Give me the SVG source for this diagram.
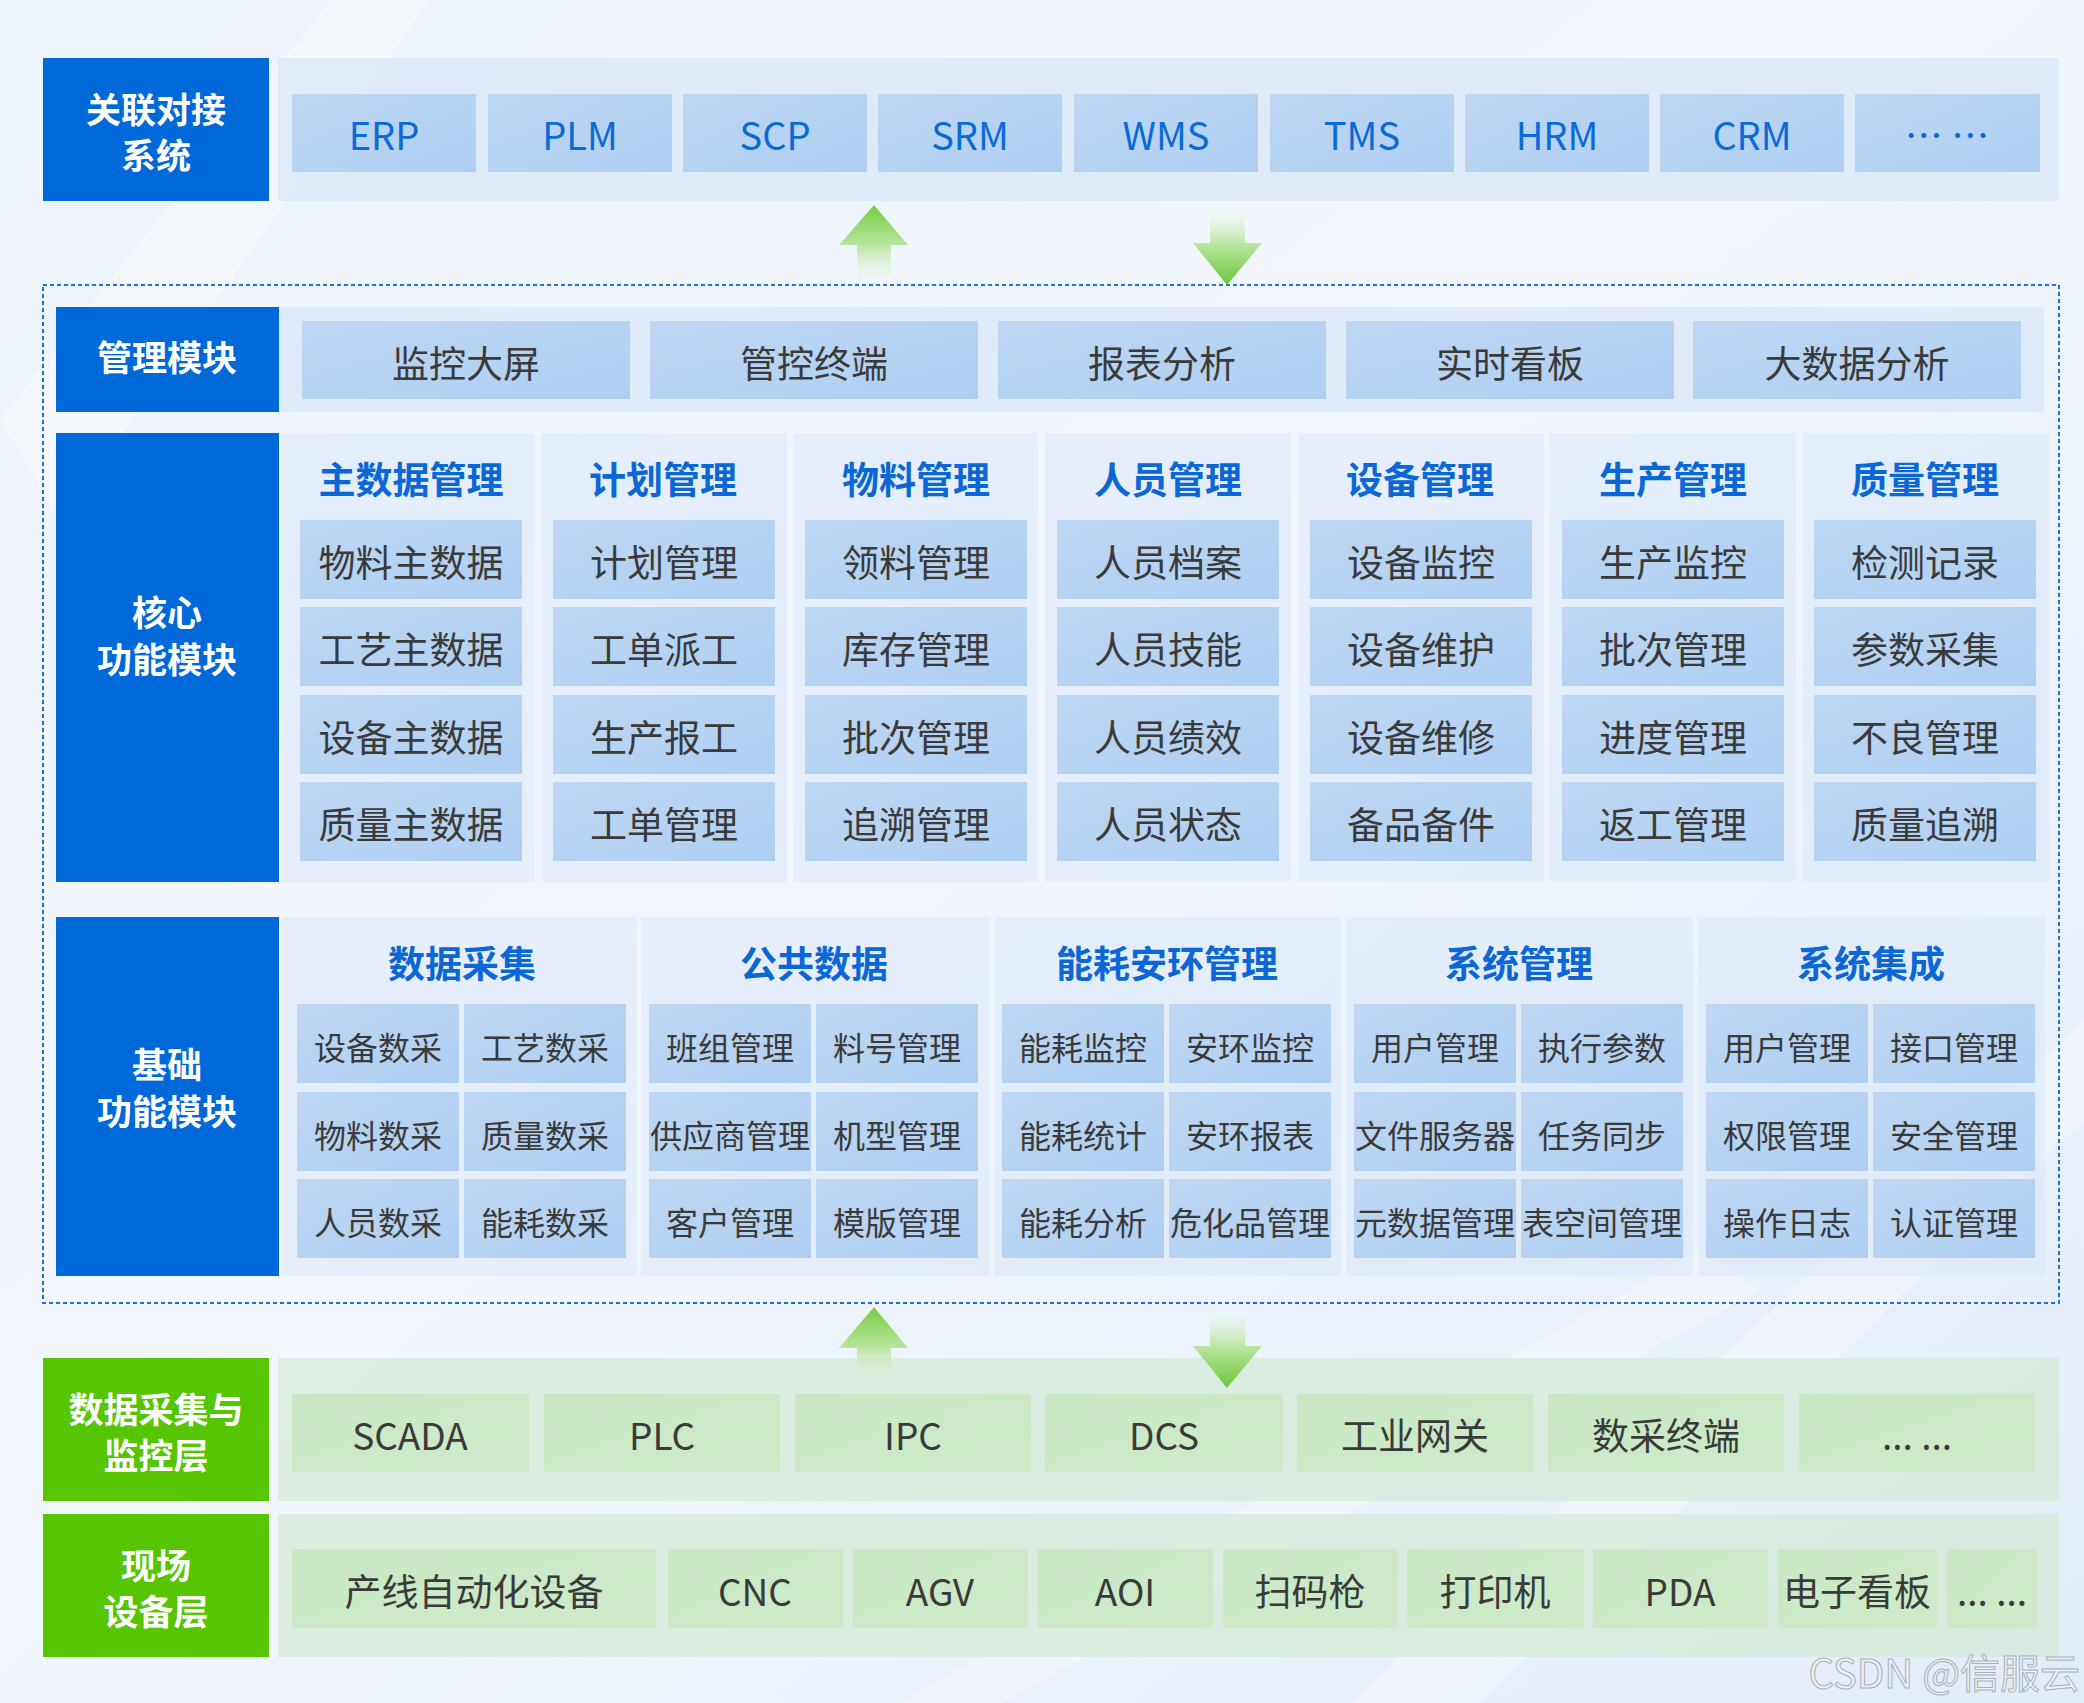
<svg xmlns="http://www.w3.org/2000/svg" width="2084" height="1703" viewBox="0 0 2084 1703">
<defs>
<linearGradient id="bg" x1="0" y1="0" x2="1" y2="1">
<stop offset="0" stop-color="#edf3fb"/>
<stop offset="0.45" stop-color="#f3f7fd"/>
<stop offset="1" stop-color="#e2ecf9"/>
</linearGradient>
<linearGradient id="blueItem" x1="0" y1="0" x2="1" y2="1">
<stop offset="0" stop-color="#bed7f3"/>
<stop offset="1" stop-color="#afcff2"/>
</linearGradient>
<linearGradient id="greenItem" x1="0" y1="0" x2="1" y2="1">
<stop offset="0" stop-color="#c9e8c4"/>
<stop offset="1" stop-color="#cdebc8"/>
</linearGradient>
<linearGradient id="upG" x1="0" y1="0" x2="0" y2="1">
<stop offset="0" stop-color="#78cc44"/>
<stop offset="0.5" stop-color="#b4e49a"/>
<stop offset="1" stop-color="#e4f5da" stop-opacity="0"/>
</linearGradient>
<linearGradient id="downG" x1="0" y1="0" x2="0" y2="1">
<stop offset="0" stop-color="#e4f5da" stop-opacity="0"/>
<stop offset="0.5" stop-color="#b4e49a"/>
<stop offset="1" stop-color="#6cc63a"/>
</linearGradient>
<style>
text{font-family:"Noto Sans CJK SC","Noto Sans",sans-serif;text-anchor:middle}
.lbl{font-size:35px;font-weight:bold;fill:#ffffff}
.top{font-size:38px;fill:#0a6ad6}
.it{font-size:37px;fill:#3a3a3a}
.sm{font-size:32px;fill:#3a3a3a}
.hd{font-size:37px;font-weight:bold;fill:#0b66d6}
.bl{fill:#0069d9}
.gl{fill:#55c504}
.bband{fill:#d6e5f7;opacity:0.65}
.gband{fill:#cfead0;opacity:0.6}
.panel{fill:#dbe7f7;opacity:0.55}
.bi{fill:url(#blueItem)}
.gi{fill:url(#greenItem)}
</style>
</defs>
<rect x="0" y="0" width="2084" height="1703" fill="url(#bg)"/>
<g opacity="0.35" fill="#ffffff">
<polygon points="0,420 330,0 430,0 60,520"/>
<polygon points="1350,1703 2084,1020 2084,1120 1480,1703"/>
<polygon points="900,1703 1700,1250 1760,1290 1000,1703"/>
</g>

<!-- dotted frame -->
<rect x="43" y="285" width="2016" height="1018" fill="none" stroke="#1a6fd8" stroke-width="2" stroke-dasharray="4 3"/>

<!-- Top: 关联对接系统 -->
<g id="top-layer">
<rect class="bband" x="278" y="58" width="1781" height="143"/>
<g id="lbl-assoc"><rect class="bl" x="43" y="58" width="226" height="143"/><text class="lbl" x="156" y="123">关联对接</text><text class="lbl" x="156" y="169">系统</text></g>
<g id="n-erp"><rect class="bi" x="292" y="94" width="184" height="78"/><text class="top" x="384" y="150">ERP</text></g>
<g id="n-plm"><rect class="bi" x="488" y="94" width="184" height="78"/><text class="top" x="580" y="150">PLM</text></g>
<g id="n-scp"><rect class="bi" x="683" y="94" width="184" height="78"/><text class="top" x="775" y="150">SCP</text></g>
<g id="n-srm"><rect class="bi" x="878" y="94" width="184" height="78"/><text class="top" x="970" y="150">SRM</text></g>
<g id="n-wms"><rect class="bi" x="1074" y="94" width="184" height="78"/><text class="top" x="1166" y="150">WMS</text></g>
<g id="n-tms"><rect class="bi" x="1270" y="94" width="184" height="78"/><text class="top" x="1362" y="150">TMS</text></g>
<g id="n-hrm"><rect class="bi" x="1465" y="94" width="184" height="78"/><text class="top" x="1557" y="150">HRM</text></g>
<g id="n-crm"><rect class="bi" x="1660" y="94" width="184" height="78"/><text class="top" x="1752" y="150">CRM</text></g>
<g id="n-top-more"><rect class="bi" x="1855" y="94" width="185" height="78"/><text class="top" x="1947" y="150">… …</text></g>
</g>

<!-- 管理模块 -->
<g id="mgmt-layer">
<rect class="bband" x="279" y="307" width="1765" height="105"/>
<g id="lbl-mgmt"><rect class="bl" x="56" y="307" width="223" height="105"/><text class="lbl" x="167" y="371">管理模块</text></g>
<g id="n-m1"><rect class="bi" x="302" y="321" width="328" height="78"/><text class="it" x="466" y="378">监控大屏</text></g>
<g id="n-m2"><rect class="bi" x="650" y="321" width="328" height="78"/><text class="it" x="814" y="378">管控终端</text></g>
<g id="n-m3"><rect class="bi" x="998" y="321" width="328" height="78"/><text class="it" x="1162" y="378">报表分析</text></g>
<g id="n-m4"><rect class="bi" x="1346" y="321" width="328" height="78"/><text class="it" x="1510" y="378">实时看板</text></g>
<g id="n-m5"><rect class="bi" x="1693" y="321" width="328" height="78"/><text class="it" x="1857" y="378">大数据分析</text></g>
</g>

<!-- 核心功能模块 -->
<g id="core-layer">
<g id="lbl-core"><rect class="bl" x="56" y="433" width="223" height="449"/><text class="lbl" x="167" y="626">核心</text><text class="lbl" x="167" y="673">功能模块</text></g>
<g id="c1"><rect class="panel" x="282" y="433" width="253" height="449"/><text class="hd" x="411" y="494">主数据管理</text>
<rect class="bi" x="300" y="520" width="222" height="79"/><text class="it" x="411" y="577">物料主数据</text>
<rect class="bi" x="300" y="607" width="222" height="79"/><text class="it" x="411" y="664">工艺主数据</text>
<rect class="bi" x="300" y="695" width="222" height="79"/><text class="it" x="411" y="752">设备主数据</text>
<rect class="bi" x="300" y="782" width="222" height="79"/><text class="it" x="411" y="839">质量主数据</text></g>
<g id="c2"><rect class="panel" x="542" y="433" width="245" height="449"/><text class="hd" x="663" y="494">计划管理</text>
<rect class="bi" x="553" y="520" width="222" height="79"/><text class="it" x="664" y="577">计划管理</text>
<rect class="bi" x="553" y="607" width="222" height="79"/><text class="it" x="664" y="664">工单派工</text>
<rect class="bi" x="553" y="695" width="222" height="79"/><text class="it" x="664" y="752">生产报工</text>
<rect class="bi" x="553" y="782" width="222" height="79"/><text class="it" x="664" y="839">工单管理</text></g>
<g id="c3"><rect class="panel" x="793" y="433" width="245" height="449"/><text class="hd" x="916" y="494">物料管理</text>
<rect class="bi" x="805" y="520" width="222" height="79"/><text class="it" x="916" y="577">领料管理</text>
<rect class="bi" x="805" y="607" width="222" height="79"/><text class="it" x="916" y="664">库存管理</text>
<rect class="bi" x="805" y="695" width="222" height="79"/><text class="it" x="916" y="752">批次管理</text>
<rect class="bi" x="805" y="782" width="222" height="79"/><text class="it" x="916" y="839">追溯管理</text></g>
<g id="c4"><rect class="panel" x="1045" y="433" width="246" height="449"/><text class="hd" x="1168" y="494">人员管理</text>
<rect class="bi" x="1057" y="520" width="222" height="79"/><text class="it" x="1168" y="577">人员档案</text>
<rect class="bi" x="1057" y="607" width="222" height="79"/><text class="it" x="1168" y="664">人员技能</text>
<rect class="bi" x="1057" y="695" width="222" height="79"/><text class="it" x="1168" y="752">人员绩效</text>
<rect class="bi" x="1057" y="782" width="222" height="79"/><text class="it" x="1168" y="839">人员状态</text></g>
<g id="c5"><rect class="panel" x="1298" y="433" width="246" height="449"/><text class="hd" x="1420" y="494">设备管理</text>
<rect class="bi" x="1310" y="520" width="222" height="79"/><text class="it" x="1421" y="577">设备监控</text>
<rect class="bi" x="1310" y="607" width="222" height="79"/><text class="it" x="1421" y="664">设备维护</text>
<rect class="bi" x="1310" y="695" width="222" height="79"/><text class="it" x="1421" y="752">设备维修</text>
<rect class="bi" x="1310" y="782" width="222" height="79"/><text class="it" x="1421" y="839">备品备件</text></g>
<g id="c6"><rect class="panel" x="1550" y="433" width="246" height="449"/><text class="hd" x="1673" y="494">生产管理</text>
<rect class="bi" x="1562" y="520" width="222" height="79"/><text class="it" x="1673" y="577">生产监控</text>
<rect class="bi" x="1562" y="607" width="222" height="79"/><text class="it" x="1673" y="664">批次管理</text>
<rect class="bi" x="1562" y="695" width="222" height="79"/><text class="it" x="1673" y="752">进度管理</text>
<rect class="bi" x="1562" y="782" width="222" height="79"/><text class="it" x="1673" y="839">返工管理</text></g>
<g id="c7"><rect class="panel" x="1803" y="433" width="246" height="449"/><text class="hd" x="1925" y="494">质量管理</text>
<rect class="bi" x="1814" y="520" width="222" height="79"/><text class="it" x="1925" y="577">检测记录</text>
<rect class="bi" x="1814" y="607" width="222" height="79"/><text class="it" x="1925" y="664">参数采集</text>
<rect class="bi" x="1814" y="695" width="222" height="79"/><text class="it" x="1925" y="752">不良管理</text>
<rect class="bi" x="1814" y="782" width="222" height="79"/><text class="it" x="1925" y="839">质量追溯</text></g>
</g>

<!-- 基础功能模块 -->
<g id="base-layer">
<g id="lbl-base"><rect class="bl" x="56" y="917" width="223" height="359"/><text class="lbl" x="167" y="1078">基础</text><text class="lbl" x="167" y="1125">功能模块</text></g>
<g id="b1"><rect class="panel" x="282" y="917" width="355" height="359"/><text class="hd" x="462" y="978">数据采集</text>
<rect class="bi" x="297" y="1004" width="162" height="79"/><text class="sm" x="378" y="1060">设备数采</text>
<rect class="bi" x="464" y="1004" width="162" height="79"/><text class="sm" x="545" y="1060">工艺数采</text>
<rect class="bi" x="297" y="1092" width="162" height="79"/><text class="sm" x="378" y="1148">物料数采</text>
<rect class="bi" x="464" y="1092" width="162" height="79"/><text class="sm" x="545" y="1148">质量数采</text>
<rect class="bi" x="297" y="1179" width="162" height="79"/><text class="sm" x="378" y="1235">人员数采</text>
<rect class="bi" x="464" y="1179" width="162" height="79"/><text class="sm" x="545" y="1235">能耗数采</text></g>
<g id="b2"><rect class="panel" x="641" y="917" width="349" height="359"/><text class="hd" x="814" y="978">公共数据</text>
<rect class="bi" x="649" y="1004" width="162" height="79"/><text class="sm" x="730" y="1060">班组管理</text>
<rect class="bi" x="816" y="1004" width="162" height="79"/><text class="sm" x="897" y="1060">料号管理</text>
<rect class="bi" x="649" y="1092" width="162" height="79"/><text class="sm" x="730" y="1148">供应商管理</text>
<rect class="bi" x="816" y="1092" width="162" height="79"/><text class="sm" x="897" y="1148">机型管理</text>
<rect class="bi" x="649" y="1179" width="162" height="79"/><text class="sm" x="730" y="1235">客户管理</text>
<rect class="bi" x="816" y="1179" width="162" height="79"/><text class="sm" x="897" y="1235">模版管理</text></g>
<g id="b3"><rect class="panel" x="994" y="917" width="347" height="359"/><text class="hd" x="1167" y="978">能耗安环管理</text>
<rect class="bi" x="1002" y="1004" width="162" height="79"/><text class="sm" x="1083" y="1060">能耗监控</text>
<rect class="bi" x="1169" y="1004" width="162" height="79"/><text class="sm" x="1250" y="1060">安环监控</text>
<rect class="bi" x="1002" y="1092" width="162" height="79"/><text class="sm" x="1083" y="1148">能耗统计</text>
<rect class="bi" x="1169" y="1092" width="162" height="79"/><text class="sm" x="1250" y="1148">安环报表</text>
<rect class="bi" x="1002" y="1179" width="162" height="79"/><text class="sm" x="1083" y="1235">能耗分析</text>
<rect class="bi" x="1169" y="1179" width="162" height="79"/><text class="sm" x="1250" y="1235">危化品管理</text></g>
<g id="b4"><rect class="panel" x="1346" y="917" width="347" height="359"/><text class="hd" x="1519" y="978">系统管理</text>
<rect class="bi" x="1354" y="1004" width="162" height="79"/><text class="sm" x="1435" y="1060">用户管理</text>
<rect class="bi" x="1521" y="1004" width="162" height="79"/><text class="sm" x="1602" y="1060">执行参数</text>
<rect class="bi" x="1354" y="1092" width="162" height="79"/><text class="sm" x="1435" y="1148">文件服务器</text>
<rect class="bi" x="1521" y="1092" width="162" height="79"/><text class="sm" x="1602" y="1148">任务同步</text>
<rect class="bi" x="1354" y="1179" width="162" height="79"/><text class="sm" x="1435" y="1235">元数据管理</text>
<rect class="bi" x="1521" y="1179" width="162" height="79"/><text class="sm" x="1602" y="1235">表空间管理</text></g>
<g id="b5"><rect class="panel" x="1698" y="917" width="347" height="359"/><text class="hd" x="1871" y="978">系统集成</text>
<rect class="bi" x="1706" y="1004" width="162" height="79"/><text class="sm" x="1787" y="1060">用户管理</text>
<rect class="bi" x="1873" y="1004" width="162" height="79"/><text class="sm" x="1954" y="1060">接口管理</text>
<rect class="bi" x="1706" y="1092" width="162" height="79"/><text class="sm" x="1787" y="1148">权限管理</text>
<rect class="bi" x="1873" y="1092" width="162" height="79"/><text class="sm" x="1954" y="1148">安全管理</text>
<rect class="bi" x="1706" y="1179" width="162" height="79"/><text class="sm" x="1787" y="1235">操作日志</text>
<rect class="bi" x="1873" y="1179" width="162" height="79"/><text class="sm" x="1954" y="1235">认证管理</text></g>
</g>

<!-- 数据采集与监控层 -->
<g id="scada-layer">
<rect class="gband" x="278" y="1358" width="1781" height="143"/>
<g id="lbl-scada"><rect class="gl" x="43" y="1358" width="226" height="143"/><text class="lbl" x="156" y="1423">数据采集与</text><text class="lbl" x="156" y="1469">监控层</text></g>
<g id="n-s1"><rect class="gi" x="292" y="1394" width="237" height="78"/><text class="it" x="410" y="1450">SCADA</text></g>
<g id="n-s2"><rect class="gi" x="544" y="1394" width="236" height="78"/><text class="it" x="662" y="1450">PLC</text></g>
<g id="n-s3"><rect class="gi" x="795" y="1394" width="236" height="78"/><text class="it" x="913" y="1450">IPC</text></g>
<g id="n-s4"><rect class="gi" x="1045" y="1394" width="238" height="78"/><text class="it" x="1164" y="1450">DCS</text></g>
<g id="n-s5"><rect class="gi" x="1297" y="1394" width="236" height="78"/><text class="it" x="1415" y="1450">工业网关</text></g>
<g id="n-s6"><rect class="gi" x="1548" y="1394" width="236" height="78"/><text class="it" x="1666" y="1450">数采终端</text></g>
<g id="n-s7"><rect class="gi" x="1799" y="1394" width="236" height="78"/><text class="it" x="1917" y="1450">... ...</text></g>
</g>

<!-- 现场设备层 -->
<g id="field-layer">
<rect class="gband" x="278" y="1514" width="1781" height="143"/>
<g id="lbl-field"><rect class="gl" x="43" y="1514" width="226" height="143"/><text class="lbl" x="156" y="1579">现场</text><text class="lbl" x="156" y="1625">设备层</text></g>
<g id="n-f1"><rect class="gi" x="292" y="1549" width="364" height="79"/><text class="it" x="474" y="1606">产线自动化设备</text></g>
<g id="n-f2"><rect class="gi" x="668" y="1549" width="175" height="79"/><text class="it" x="755" y="1606">CNC</text></g>
<g id="n-f3"><rect class="gi" x="853" y="1549" width="175" height="79"/><text class="it" x="940" y="1606">AGV</text></g>
<g id="n-f4"><rect class="gi" x="1038" y="1549" width="175" height="79"/><text class="it" x="1125" y="1606">AOI</text></g>
<g id="n-f5"><rect class="gi" x="1223" y="1549" width="175" height="79"/><text class="it" x="1310" y="1606">扫码枪</text></g>
<g id="n-f6"><rect class="gi" x="1407" y="1549" width="177" height="79"/><text class="it" x="1495" y="1606">打印机</text></g>
<g id="n-f7"><rect class="gi" x="1593" y="1549" width="175" height="79"/><text class="it" x="1680" y="1606">PDA</text></g>
<g id="n-f8"><rect class="gi" x="1778" y="1549" width="159" height="79"/><text class="it" x="1857" y="1606">电子看板</text></g>
<g id="n-f9"><rect class="gi" x="1947" y="1549" width="90" height="79"/><text class="it" x="1992" y="1606">... ...</text></g>
</g>

<!-- connectors -->
<g id="connectors">
<polygon points="874,205 908,245 891,245 891,282 857,282 857,245 839,245" fill="url(#upG)"/>
<polygon points="1210,208 1245,208 1245,243 1262,243 1227,285 1193,243 1210,243" fill="url(#downG)"/>
<polygon points="874,1307 908,1348 891,1348 891,1384 857,1384 857,1348 839,1348" fill="url(#upG)"/>
<polygon points="1210,1310 1245,1310 1245,1346 1262,1346 1227,1388 1193,1346 1210,1346" fill="url(#downG)"/>
</g>

<text x="2080" y="1688" style="text-anchor:end;font-size:40px;fill:#eef1f4;stroke:#a9b0b8;stroke-width:1">CSDN @信服云</text>
</svg>
